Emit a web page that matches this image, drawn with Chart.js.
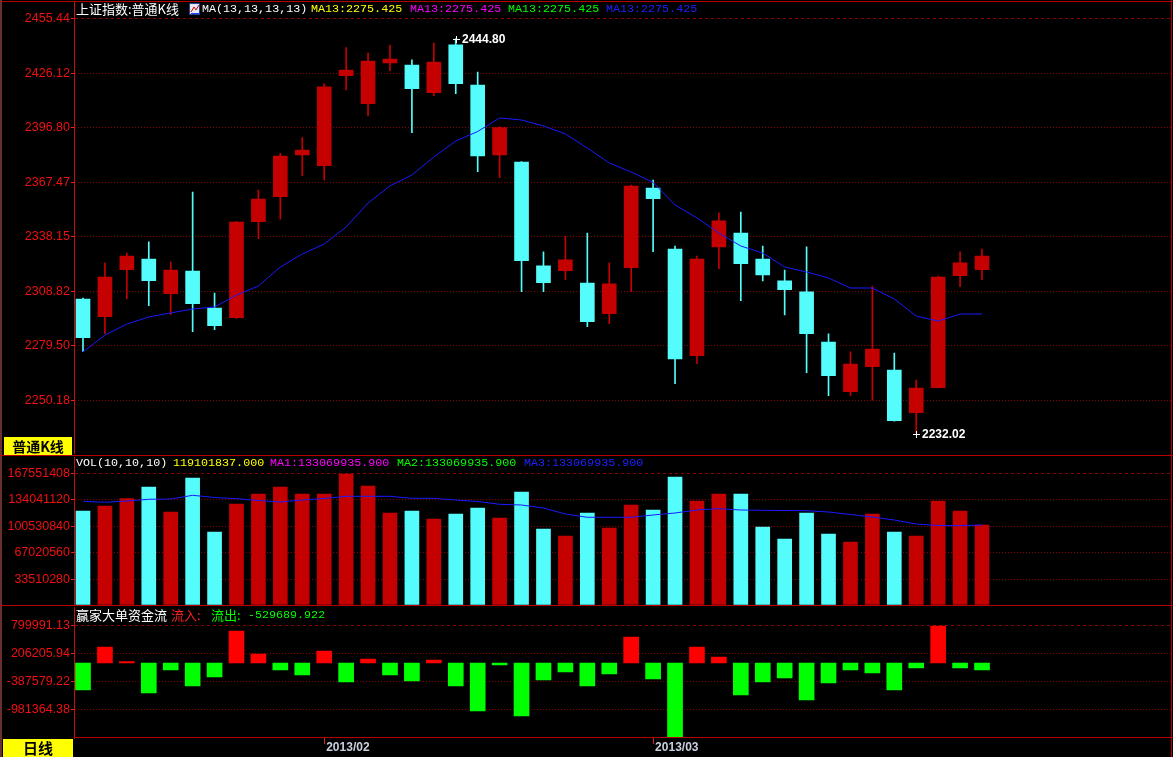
<!DOCTYPE html>
<html><head><meta charset="utf-8">
<script src="https://cdn.jsdelivr.net/npm/chart.js@4.4.0/dist/chart.umd.min.js"></script>
<style>
html,body{margin:0;padding:0;background:#000;width:1173px;height:757px;overflow:hidden;position:relative;}
canvas{position:absolute;left:0;}
.ln{position:absolute;background:#b80000;}
.box{position:absolute;background:#ffff00;color:#000;font-family:"Noto Sans CJK SC";font-weight:bold;text-align:center;}
</style></head>
<body>
<canvas id="c1" width="1173" height="455" style="top:0px"></canvas>
<canvas id="c2" width="1173" height="150" style="top:456px"></canvas>
<canvas id="c3" width="1173" height="151" style="top:606px"></canvas>
<div class="ln" style="left:0;top:1px;width:1173px;height:1px;"></div>
<div class="ln" style="left:0;top:0;width:2px;height:757px;background:#6a3030"></div>
<div class="ln" style="left:1171px;top:0;width:1px;height:757px;"></div>
<div class="ln" style="left:0;top:455px;width:1173px;height:1px;"></div>
<div class="ln" style="left:0;top:605px;width:1173px;height:1px;"></div>
<div class="ln" style="left:74px;top:737px;width:1099px;height:1px;"></div>
<div class="box" style="left:4px;top:437px;width:68px;height:18px;font-size:14px;line-height:18px;">普通K线</div>
<div class="box" style="left:3px;top:739px;width:70px;height:18px;font-size:15px;line-height:18px;">日线</div>
<script>
// ---------- data ----------
const dates = ['2013-01-17','2013-01-18','2013-01-21','2013-01-22','2013-01-23','2013-01-24','2013-01-25','2013-01-28','2013-01-29','2013-01-30','2013-01-31',
 '2013-02-01','2013-02-04','2013-02-05','2013-02-06','2013-02-07','2013-02-08','2013-02-18','2013-02-19','2013-02-20','2013-02-21','2013-02-22','2013-02-25','2013-02-26','2013-02-27','2013-02-28',
 '2013-03-01','2013-03-04','2013-03-05','2013-03-06','2013-03-07','2013-03-08','2013-03-11','2013-03-12','2013-03-13','2013-03-14','2013-03-15','2013-03-18','2013-03-19','2013-03-20','2013-03-21','2013-03-22'];
const openPrices  = [2304.7,2295.2,2320.5,2326.2,2307.5,2319.7,2299.8,2294.6,2346.3,2359.7,2382.2,2376.4,2424.8,2409.8,2431.7,2430.6,2415.7,2441.4,2419.8,2382.2,2378.4,2322.5,2319.9,2313.3,2296.8,2321.5,2364.4,2331.6,2274.2,2332.7,2340.2,2326.2,2314.4,2308.5,2281.5,2254.8,2268.3,2266.5,2243.5,2257.0,2317.2,2320.5];
const highPrices  = [2305.2,2324.1,2329.4,2335.4,2324.6,2362.2,2307.9,2346.5,2363.3,2383.1,2391.5,2420.4,2439.9,2437.0,2441.3,2433.3,2442.4,2444.80,2426.8,2397.4,2378.6,2330.0,2338.6,2340.2,2324.1,2366.0,2368.7,2333.2,2327.8,2351.0,2351.5,2333.2,2320.3,2332.7,2285.9,2276.2,2311.7,2275.6,2261.1,2317.0,2330.0,2331.6];
const lowPrices   = [2276.5,2286.0,2304.8,2301.1,2296.2,2287.1,2288.2,2294.2,2337.1,2347.6,2371.0,2368.7,2417.2,2403.2,2427.5,2394.2,2414.1,2415.2,2373.2,2370.0,2308.6,2308.6,2315.1,2289.8,2291.4,2308.6,2330.2,2259.1,2269.9,2321.0,2303.8,2314.4,2296.1,2265.0,2252.7,2252.7,2250.2,2239.0,2232.02,2256.8,2311.3,2315.1];
const closePrices = [2283.9,2316.5,2327.8,2314.5,2320.3,2302.2,2290.3,2346.1,2358.5,2381.6,2384.8,2418.8,2427.9,2432.7,2433.8,2417.8,2432.2,2420.5,2381.6,2396.9,2325.3,2313.5,2325.7,2292.5,2312.8,2365.5,2358.7,2272.4,2326.2,2346.7,2323.7,2317.6,2309.7,2286.0,2263.4,2269.7,2277.8,2239.2,2256.8,2316.5,2324.1,2327.8];
const ma13 = [2276.2,2285.3,2291.2,2295.0,2297.2,2299.3,2300.4,2306.8,2311.7,2321.9,2328.9,2334.3,2343.4,2356.3,2365.5,2371.4,2381.1,2389.7,2394.8,2402.1,2401.0,2397.8,2393.5,2385.9,2377.9,2373.0,2367.4,2355.3,2348.3,2340.2,2333.2,2329.4,2321.9,2319.2,2316.0,2310.6,2310.6,2304.7,2295.5,2292.8,2296.6,2296.6];
const volumes = [119770000,126110000,135400000,150190000,118500000,161590000,93150000,128640000,141320000,150190000,141320000,141320000,166660000,151450000,117240000,119770000,109630000,115970000,123570000,110900000,143850000,96960000,88080000,117240000,98220000,127370000,121040000,162860000,132440000,141320000,141320000,99490000,84280000,117240000,90620000,80480000,115970000,93150000,88080000,132440000,119770000,102030000];
const volMA = [132060000,130800000,132440000,134600000,134980000,139670000,136880000,135360000,133080000,131180000,133710000,135610000,138400000,138400000,138400000,135870000,135870000,133710000,131810000,128260000,127370000,123570000,115970000,111790000,111790000,111790000,114700000,117240000,121040000,122690000,121040000,120660000,120400000,120150000,118500000,115330000,112170000,108360000,103290000,101390000,101140000,102030000];
const flows = [-572600,339300,32000,-636000,-148000,-488000,-297000,678600,190900,-148000,-254000,254500,-403000,84800,-254000,-382000,63600,-488000,-1018000,-42000,-1124000,-360000,-191000,-488000,-233000,551400,-339000,-1590000,339300,127000,-679000,-403000,-318000,-785000,-424000,-148000,-212000,-573000,-106000,784600,-106000,-148000];
const priceTicks  = [2455.44,2426.12,2396.80,2367.47,2338.15,2308.82,2279.50,2250.18];
const volumeTicks = [167551408,134041120,100530840,67020560,33510280];
const flowTicks   = [799991.13,206205.94,-387579.22,-981364.38];
const mainHeader = ['上证指数:普通K线','MA(13,13,13,13)','MA13:2275.425','MA13:2275.425','MA13:2275.425','MA13:2275.425'];
const volHeader  = ['VOL(10,10,10)','119101837.000','MA1:133069935.900','MA2:133069935.900','MA3:133069935.900'];
const flowHeader = ['赢家大单资金流','流入:','流出:','-529689.922'];

// ---------- derived ----------
const idx = dates.map((d,i)=>i);
const monthIdx = idx.filter(i=> i>0 && dates[i].slice(0,7)!==dates[i-1].slice(0,7));
const monthLabels = monthIdx.map(i=> dates[i].slice(0,7).replace('-','/'));

const RED='#c40000', CYAN='#54fcfc';
const X_MIN=-0.4105, X_MAX=49.71;
const CJK='13px "Noto Sans CJK SC"', MONO='11.7px "Liberation Mono"';
Chart.defaults.animation=false;
Chart.defaults.plugins.legend.display=false;
Chart.defaults.plugins.tooltip.enabled=false;
Chart.defaults.font.family='"Liberation Sans", Arial';

function xScale(show){
  const s={type:'linear',min:X_MIN,max:X_MAX,offset:false,display:show,grid:{offset:false}};
  if(show){
    Object.assign(s,{
      afterFit(sc){sc.height=19;},
      afterBuildTicks(sc){sc.ticks=monthIdx.map(v=>({value:v}));},
      ticks:{align:'start',color:'#c8d0e0',font:{size:12,weight:'bold'},maxRotation:0,autoSkip:false,padding:-4,labelOffset:2,
        callback:(v,i)=>monthLabels[i]},
      grid:{offset:false,drawOnChartArea:false,drawTicks:true,tickLength:6,tickColor:'#d02020',color:'#d02020'},
      border:{display:false}
    });
  }
  return s;
}
function yScale(min,max,tickVals,fmt){
  const top=Math.max(...tickVals);
  return {type:'linear',position:'left',min,max,
    afterFit(sc){sc.width=74;},
    afterBuildTicks(sc){sc.ticks=tickVals.map(v=>({value:v}));},
    // tiny lineHeight: single-line labels draw the same, but no edge padding is reserved for them
    ticks:{color:'#f01010',font:{size:12.5,lineHeight:0.05},padding:1,autoSkip:false,callback:(v)=>fmt(v)},
    grid:{color:'#8a0000',lineWidth:1,drawTicks:true,tickLength:3,tickColor:'#f02020'},
    border:{display:true,color:'#c01010',width:1,dash:(c)=>(c&&c.tick&&c.tick.value===top)?[3,3]:[1,2]}
  };
}
// map the value axis so that refVal sits at page row refY, with k pixels per unit
function refit(chart,pageTop,refVal,refY,k){
  const ca=chart.chartArea;
  chart.options.scales.y.max = refVal + (refY-(pageTop+ca.top))/k;
  chart.options.scales.y.min = refVal - ((pageTop+ca.bottom)-refY)/k;
  chart.update('none');
}
function headerPlugin(y,segs,icon){
  return {id:'hdr',afterDraw(chart){
    const ctx=chart.ctx; ctx.save(); ctx.textBaseline='middle'; ctx.textAlign='left';
    segs.forEach(s=>{ctx.font=s.f; ctx.fillStyle=s.c; ctx.fillText(s.t,s.x,y);});
    if(icon){
      ctx.fillStyle='#e8e8f0'; ctx.fillRect(189,3,11,12);
      ctx.strokeStyle='#2040a0'; ctx.lineWidth=1; ctx.strokeRect(189.5,3.5,10,11);
      ctx.strokeStyle='#e00000'; ctx.beginPath(); ctx.moveTo(191,12); ctx.lineTo(194,7); ctx.lineTo(196,10); ctx.lineTo(199,5); ctx.stroke();
      ctx.strokeStyle='#2040ff'; ctx.beginPath(); ctx.moveTo(191,13.5); ctx.lineTo(199,13.5); ctx.stroke();
    }
    ctx.restore();
  }};
}
const extremes={id:'ext',afterDatasetsDraw(chart){
  const ctx=chart.ctx, xs=chart.scales.x, ys=chart.scales.y;
  let hi=0,lo=0;
  idx.forEach(i=>{ if(highPrices[i]>highPrices[hi]) hi=i; if(lowPrices[i]<lowPrices[lo]) lo=i; });
  ctx.save(); ctx.fillStyle='#ffffff'; ctx.strokeStyle='#ffffff'; ctx.lineWidth=1;
  ctx.font='bold 12px "Liberation Sans", Arial'; ctx.textBaseline='middle'; ctx.textAlign='left';
  [[hi,highPrices[hi]],[lo,lowPrices[lo]]].forEach(([i,v])=>{
    const px=Math.round(xs.getPixelForValue(i)), py=Math.round(ys.getPixelForValue(v));
    ctx.beginPath(); ctx.moveTo(px-3,py+0.5); ctx.lineTo(px+4,py+0.5); ctx.moveTo(px+0.5,py-3); ctx.lineTo(px+0.5,py+4); ctx.stroke();
    ctx.fillText(v.toFixed(2),px+6,py+1);
  });
  ctx.restore();
}};
const upDown=i=> closePrices[i]>=openPrices[i]?RED:CYAN;
const common={responsive:false,maintainAspectRatio:false,devicePixelRatio:1,layout:{padding:0,autoPadding:false}};

// ---------- main price chart ----------
const ch1 = new Chart(document.getElementById('c1'),{
  type:'bar',
  data:{datasets:[
    {label:'wick',data:idx.map(i=>({x:i,y:[lowPrices[i],highPrices[i]]})),backgroundColor:idx.map(upDown),barThickness:1,grouped:false,order:2},
    {label:'body',data:idx.map(i=>({x:i,y:[openPrices[i],closePrices[i]]})),backgroundColor:idx.map(upDown),barThickness:14,minBarLength:1,grouped:false,order:1},
    {type:'line',label:'MA13',data:idx.map(i=>({x:i,y:ma13[i]})),borderColor:'#1a1aff',borderWidth:1,pointRadius:0,tension:0,order:0}
  ]},
  options:Object.assign({},common,{scales:{x:xScale(false),y:yScale(2220.75,2465.56,priceTicks,v=>v.toFixed(2))}}),
  plugins:[extremes,headerPlugin(9,[
    {t:mainHeader[0],x:76,c:'#ffffff',f:CJK},
    {t:mainHeader[1],x:202,c:'#ffffff',f:MONO},
    {t:mainHeader[2],x:311,c:'#ffff00',f:MONO},
    {t:mainHeader[3],x:410,c:'#ff00ff',f:MONO},
    {t:mainHeader[4],x:508,c:'#00ff00',f:MONO},
    {t:mainHeader[5],x:606,c:'#2020ff',f:MONO}],true)]
});
refit(ch1,0,2250.18,400.3,1.8586);

// ---------- volume chart ----------
const ch2 = new Chart(document.getElementById('c2'),{
  type:'bar',
  data:{datasets:[
    {label:'VOL',data:idx.map(i=>({x:i,y:volumes[i]})),backgroundColor:idx.map(upDown),barThickness:14,grouped:false,order:1},
    {type:'line',label:'MA',data:idx.map(i=>({x:i,y:volMA[i]})),borderColor:'#1a1aff',borderWidth:1,pointRadius:0,tension:0,order:0}
  ]},
  options:Object.assign({},common,{scales:{x:xScale(false),y:yScale(-633704,189480000,volumeTicks,v=>String(Math.round(v)))}}),
  plugins:[headerPlugin(7,[
    {t:volHeader[0],x:76,c:'#ffffff',f:MONO},
    {t:volHeader[1],x:173,c:'#ffff00',f:MONO},
    {t:volHeader[2],x:270,c:'#ff00ff',f:MONO},
    {t:volHeader[3],x:397,c:'#00ff00',f:MONO},
    {t:volHeader[4],x:524,c:'#2020ff',f:MONO}],false)]
});
refit(ch2,456,0,605.5,132.2/167551408);

// ---------- money flow chart ----------
const ch3 = new Chart(document.getElementById('c3'),{
  type:'bar',
  data:{datasets:[
    {label:'flow',data:idx.map(i=>({x:i,y:flows[i]})),backgroundColor:idx.map(i=>flows[i]>=0?'#ff0000':'#00ff00'),barThickness:15,grouped:false}
  ]},
  options:Object.assign({},common,{scales:{x:xScale(true),y:yScale(-1590495,1208776,flowTicks,v=>v.toFixed(2))}}),
  plugins:[headerPlugin(9,[
    {t:flowHeader[0],x:76,c:'#ffffff',f:CJK},
    {t:flowHeader[1],x:171,c:'#ff2020',f:CJK},
    {t:flowHeader[2],x:211,c:'#00ff00',f:CJK},
    {t:flowHeader[3],x:248,c:'#00ff00',f:MONO}],false)]
});
refit(ch3,606,0,663,1/21206.6);
</script>
</body></html>
